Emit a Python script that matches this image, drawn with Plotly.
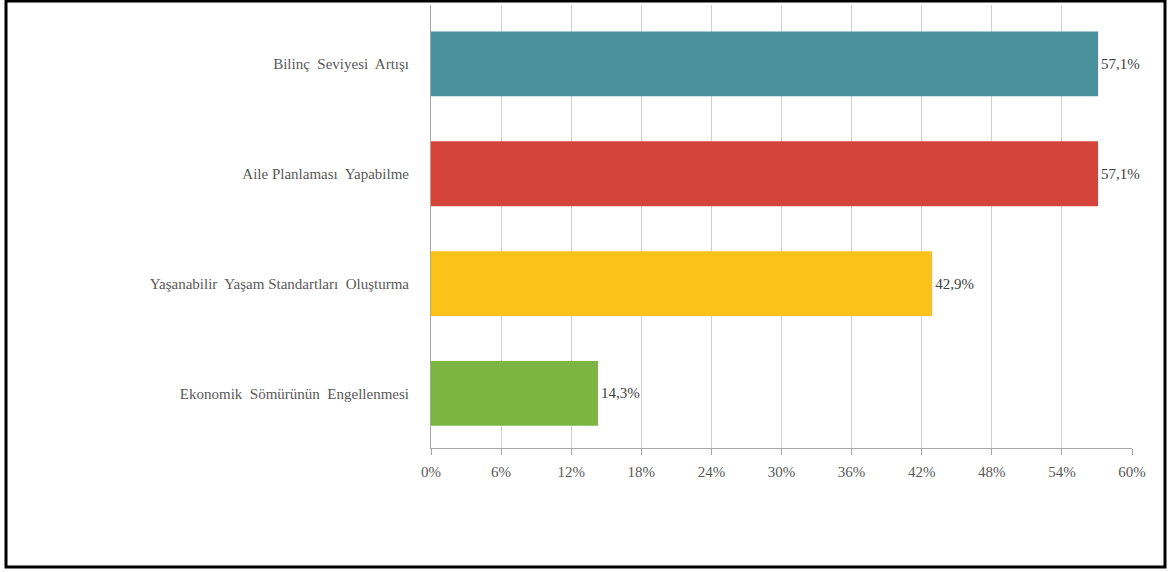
import plotly.graph_objects as go

# Categories top to bottom, with their percentages and bar colours
categories = [
    "Bilinç  Seviyesi  Artışı",
    "Aile Planlaması  Yapabilme",
    "Yaşanabilir  Yaşam Standartları  Oluşturma",
    "Ekonomik  Sömürünün  Engellenmesi",
]
values = [57.1, 57.1, 42.9, 14.3]
colors = ["#4A919D", "#D4443B", "#FBC21A", "#7DB543"]
x_ticks = [0, 6, 12, 18, 24, 30, 36, 42, 48, 54, 60]
x_tick_labels = ["0%", "6%", "12%", "18%", "24%", "30%", "36%", "42%", "48%", "54%", "60%"]

labels = [c.replace("  ", "\u00a0 ") for c in categories]

SERIF = "Liberation Serif, Times New Roman, Times, serif"

W, H = 1171, 572
L, R, T, B = 431, 39, 5, 124

fig = go.Figure(
    go.Bar(
        x=values,
        y=labels,
        orientation="h",
        marker=dict(color=colors, line=dict(width=0)),
        texttemplate="%{x:.1f}%",
        textposition="outside",
        textfont=dict(family=SERIF, size=15, color="#404040"),
        cliponaxis=False,
        width=0.59,
    )
)

plot_w = W - L - R
plot_h = H - T - B

fig.update_layout(
    width=W,
    height=H,
    margin=dict(l=L, r=R, t=T, b=B),
    paper_bgcolor="white",
    plot_bgcolor="white",
    separators=",.",
    showlegend=False,
    font=dict(family=SERIF, size=15, color="#595959"),
    xaxis=dict(
        range=[0, 60],
        tickmode="array",
        tickvals=x_ticks,
        ticktext=x_tick_labels,
        showgrid=True,
        gridcolor="#D0D0D0",
        gridwidth=1,
        zeroline=False,
        showline=True,
        linecolor="#A6A6A6",
        linewidth=1,
        ticks="outside",
        ticklen=6,
        tickcolor="#A6A6A6",
        tickfont=dict(family=SERIF, size=15, color="#595959"),
        ticklabelstandoff=4,
        fixedrange=True,
    ),
    yaxis=dict(
        categoryorder="array",
        categoryarray=labels,
        range=[3.498, -0.537],
        showgrid=False,
        showline=True,
        linecolor="#A6A6A6",
        linewidth=1,
        ticks="",
        tickfont=dict(family=SERIF, size=15, color="#595959"),
        ticklabelstandoff=18,
        fixedrange=True,
    ),
    shapes=[
        dict(
            type="rect",
            xref="paper",
            yref="paper",
            x0=(6 - L) / plot_w,
            x1=(1165 - L) / plot_w,
            y0=(H - B - 567) / plot_h,
            y1=(H - B - 1) / plot_h,
            line=dict(color="black", width=3),
            fillcolor="rgba(0,0,0,0)",
            layer="above",
        )
    ],
)

fig.write_html("out.html")
